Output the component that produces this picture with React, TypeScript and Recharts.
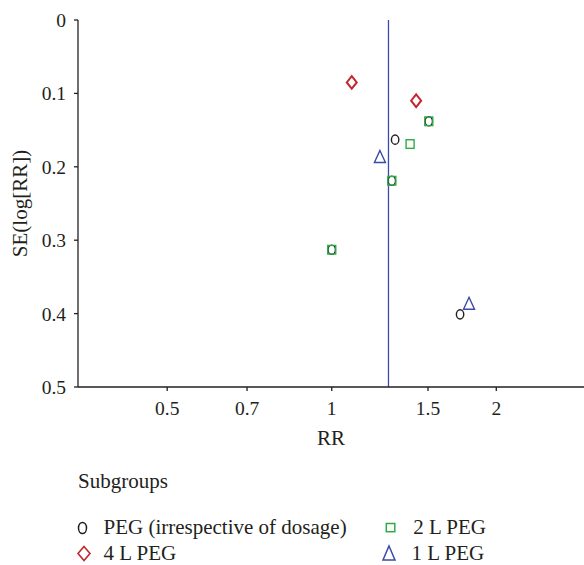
import React from 'react';
import { ScatterChart, Scatter, XAxis, YAxis, ReferenceLine } from 'recharts';

// ---- data ----
const seriesNames = ['PEG (irrespective of dosage)', '4 L PEG', '2 L PEG', '1 L PEG'];

const pegRR = [1.306, 1.717, 1.505, 1.288, 1.0];
const pegSE = [0.163, 0.401, 0.138, 0.219, 0.313];

const peg4RR = [1.088, 1.427];
const peg4SE = [0.085, 0.11];

const peg2RR = [1.391, 1.505, 1.288, 1.0];
const peg2SE = [0.169, 0.138, 0.219, 0.313];

const peg1RR = [1.225, 1.783];
const peg1SE = [0.186, 0.386];

const pooledRR = 1.27;

const xTicks = [0.5, 0.7, 1, 1.5, 2];
const yTicks = [0, 0.1, 0.2, 0.3, 0.4, 0.5];
const xDomain = [0.3434, 2.894];
const yDomain = [0, 0.5];

const toPoints = (rr: number[], se: number[]) => rr.map((v, i) => ({ rr: v, se: se[i] }));
const pegData = toPoints(pegRR, pegSE);
const peg4Data = toPoints(peg4RR, peg4SE);
const peg2Data = toPoints(peg2RR, peg2SE);
const peg1Data = toPoints(peg1RR, peg1SE);

// ---- styles ----
const INK = '#231f20';
const RED = '#c1272d';
const GREEN = '#2eab47';
const BLUE = '#3a4aa8';
const FONT = '"Liberation Serif", "DejaVu Serif", serif';

const CircleShape = (p: any) => (
  <ellipse cx={p.cx} cy={p.cy} rx={3.7} ry={4.6} fill="none" stroke={INK} strokeWidth={1.4} />
);
const DiamondShape = (p: any) => (
  <path
    d={`M${p.cx},${p.cy - 6.3} L${p.cx + 5},${p.cy} L${p.cx},${p.cy + 6.3} L${p.cx - 5},${p.cy} Z`}
    fill="none"
    stroke={RED}
    strokeWidth={2}
  />
);
const SquareShape = (p: any) => (
  <rect x={p.cx - 4} y={p.cy - 4.3} width={8} height={8.6} fill="none" stroke={GREEN} strokeWidth={1.4} />
);
const TriangleShape = (p: any) => (
  <path
    d={`M${p.cx},${p.cy - 6} L${p.cx + 5.5},${p.cy + 6} L${p.cx - 5.5},${p.cy + 6} Z`}
    fill="none"
    stroke={BLUE}
    strokeWidth={1.4}
  />
);

const tickStyle = { fill: INK, fontSize: 19.5, fontFamily: FONT };

export default function App() {
  return (
    <div style={{ position: 'absolute', left: 0, top: 0, width: 584, height: 565, background: '#fff' }}>
      <ScatterChart width={584} height={565} margin={{ top: 20, right: 0, bottom: 0, left: 0 }}>
        <XAxis
          dataKey="rr"
          type="number"
          scale="log"
          domain={xDomain}
          allowDataOverflow
          ticks={xTicks}
          tick={tickStyle}
          tickSize={4}
          tickMargin={10}
          height={178}
          axisLine={{ stroke: INK, strokeWidth: 1.3 }}
          tickLine={{ stroke: INK, strokeWidth: 1.3 }}
          label={{
            value: 'RR',
            position: 'insideTop',
            offset: 43,
            style: { fill: INK, fontSize: 21, fontFamily: FONT },
          }}
        />
        <YAxis
          dataKey="se"
          type="number"
          reversed
          domain={yDomain}
          ticks={yTicks}
          tick={tickStyle}
          tickSize={4}
          tickMargin={8}
          width={78}
          axisLine={{ stroke: INK, strokeWidth: 1.3 }}
          tickLine={{ stroke: INK, strokeWidth: 1.3 }}
          label={{
            value: 'SE(log[RR])',
            angle: -90,
            position: 'insideLeft',
            offset: 20,
            style: { fill: INK, fontSize: 21, fontFamily: FONT, textAnchor: 'middle' },
          }}
        />
        <ReferenceLine x={pooledRR} stroke={BLUE} strokeWidth={1.3} />
        <Scatter name={seriesNames[0]} data={pegData} shape={CircleShape} isAnimationActive={false} />
        <Scatter name={seriesNames[1]} data={peg4Data} shape={DiamondShape} isAnimationActive={false} />
        <Scatter name={seriesNames[2]} data={peg2Data} shape={SquareShape} isAnimationActive={false} />
        <Scatter name={seriesNames[3]} data={peg1Data} shape={TriangleShape} isAnimationActive={false} />
      </ScatterChart>
      <svg
        width={584}
        height={565}
        style={{ position: 'absolute', left: 0, top: 0, pointerEvents: 'none' }}
        fontFamily={FONT}
        fontSize={21}
        fill={INK}
      >
        <text x={78} y={488}>Subgroups</text>
        <ellipse cx={82.5} cy={528} rx={4} ry={5.6} fill="none" stroke={INK} strokeWidth={1.5} />
        <text x={103.5} y={534}>{seriesNames[0]}</text>
        <path d="M84,546.5 L90,553.5 L84,560.5 L78,553.5 Z" fill="none" stroke={RED} strokeWidth={1.6} />
        <text x={103.5} y={560}>{seriesNames[1]}</text>
        <rect x={386.3} y={523.5} width={8.5} height={8.2} fill="none" stroke={GREEN} strokeWidth={1.5} />
        <text x={413.3} y={534}>{seriesNames[2]}</text>
        <path d="M389,546 L395,560 L383,560 Z" fill="none" stroke={BLUE} strokeWidth={1.5} />
        <text x={411.5} y={560}>{seriesNames[3]}</text>
      </svg>
    </div>
  );
}
